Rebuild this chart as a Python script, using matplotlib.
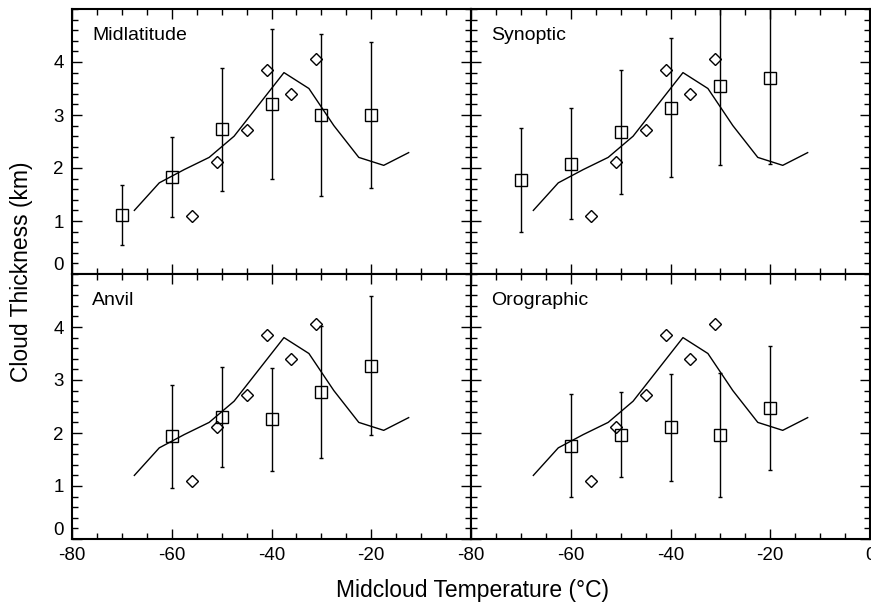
import numpy as np
import matplotlib
matplotlib.use("Agg")
import matplotlib.pyplot as plt
from matplotlib.ticker import MultipleLocator

plt.rcParams['font.family'] = ['Liberation Sans', 'DejaVu Sans']
plt.rcParams['axes.unicode_minus'] = False

# model curve (same in every panel)
line_t = [-67.5, -62.5, -57.5, -52.5, -47.5, -42.5, -37.5, -32.5, -27.5, -22.5, -17.5, -12.5]
line_h = [1.20, 1.72, 1.97, 2.20, 2.60, 3.20, 3.80, 3.50, 2.80, 2.20, 2.05, 2.29]

# diamonds (same in every panel)
dia_t = [-56, -51, -45, -41, -36, -31]
dia_h = [1.10, 2.11, 2.72, 3.85, 3.40, 4.05]

# squares with error bars, one set per cloud type
mid_t = [-70, -60, -50, -40, -30, -20]
mid_h = [1.11, 1.83, 2.73, 3.21, 3.00, 3.00]
mid_e = [0.57, 0.75, 1.16, 1.42, 1.53, 1.38]

syn_t = [-70, -60, -50, -40, -30, -20]
syn_h = [1.78, 2.08, 2.68, 3.14, 3.55, 3.70]
syn_e = [0.98, 1.05, 1.17, 1.31, 1.50, 1.63]

anv_t = [-60, -50, -40, -30, -20]
anv_h = [1.94, 2.30, 2.26, 2.77, 3.27]
anv_e = [0.97, 0.95, 0.97, 1.25, 1.31]

oro_t = [-60, -50, -40, -30, -20]
oro_h = [1.76, 1.97, 2.11, 1.96, 2.47]
oro_e = [0.97, 0.80, 1.01, 1.17, 1.17]

panels = [
    ("Midlatitude", mid_t, mid_h, mid_e),
    ("Synoptic", syn_t, syn_h, syn_e),
    ("Anvil", anv_t, anv_h, anv_e),
    ("Orographic", oro_t, oro_h, oro_e),
]

fig = plt.figure(figsize=(8.71, 6.10), dpi=100)

W, H = 871.0, 610.0
x0, pw = 72 / W, 399 / W
ph = 265 / H
y_top = 1 - 274 / H
y_bot = 1 - 539 / H
boxes = [(x0, y_top), (x0 + pw, y_top), (x0, y_bot), (x0 + pw, y_bot)]

for i, (name, t, h, e) in enumerate(panels):
    ax = fig.add_axes([boxes[i][0], boxes[i][1], pw, ph])
    ax.plot(line_t, line_h, color='black', lw=1.0)
    ax.plot(dia_t, dia_h, 'D', mfc='none', mec='black', ms=6.5, mew=1.0)
    ax.errorbar(t, h, yerr=e, fmt='s', mfc='none', mec='black', ms=8.5, mew=1.0,
                ecolor='black', elinewidth=1.0, capsize=1.5, capthick=1.0)
    ax.set_xlim(-80, 0)
    ax.set_ylim(0, 5)
    ax.set_xticks([-80, -60, -40, -20, 0])
    ax.set_yticks([0, 1, 2, 3, 4])
    ax.xaxis.set_minor_locator(MultipleLocator(5))
    ax.yaxis.set_minor_locator(MultipleLocator(0.2))
    ax.tick_params(which='both', direction='in', top=True, right=True, width=1.0,
                   labelsize=13.5, pad=6)
    ax.tick_params(which='major', length=7)
    ax.tick_params(which='minor', length=4)
    for s in ax.spines.values():
        s.set_linewidth(1.5)
    ax.text(0.05, 0.9, name, transform=ax.transAxes, fontsize=14, va='center', ha='left')

    if i % 2 == 0:
        ax.set_xticklabels(['-80', '-60', '-40', '-20', ''])
        ax.set_yticklabels(['0', '1', '2', '3', '4'])
        ax.get_yticklabels()[0].set_verticalalignment('bottom')
    else:
        ax.set_xticklabels(['-80', '-60', '-40', '-20', '0'])
        ax.tick_params(labelleft=False)
    if i < 2:
        ax.tick_params(labelbottom=False)

fig.text(472 / W, 1 - 590 / H, 'Midcloud Temperature (°C)', ha='center', va='center', fontsize=16.5)
fig.text(22 / W, 1 - 272 / H, 'Cloud Thickness (km)', ha='center', va='center',
         rotation=90, fontsize=16.5)

fig.savefig('out.png', dpi=100)
